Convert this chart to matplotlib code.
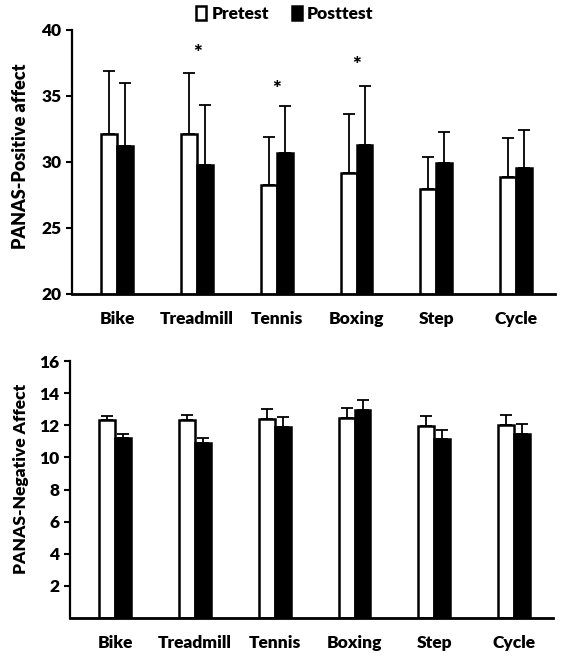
import matplotlib
matplotlib.use("Agg")
import matplotlib.pyplot as plt
import numpy as np
from matplotlib.patches import Patch

plt.rcParams['font.family'] = ['Lato', 'DejaVu Sans']
plt.rcParams['font.weight'] = 'heavy'
FW = 'heavy'

categories = ["Bike", "Treadmill", "Tennis", "Boxing", "Step", "Cycle"]

pos_pre = [32.1, 32.1, 28.25, 29.2, 27.95, 28.9]
pos_pre_err = [4.8, 4.65, 3.65, 4.4, 2.45, 2.95]
pos_post = [31.2, 29.75, 30.7, 31.3, 29.9, 29.55]
pos_post_err = [4.8, 4.6, 3.55, 4.45, 2.35, 2.9]
pos_stars = [None, 38.25, 35.5, 37.3, None, None]

neg_pre = [12.32, 12.32, 12.4, 12.45, 11.95, 12.0]
neg_pre_err = [0.23, 0.33, 0.62, 0.62, 0.62, 0.65]
neg_post = [11.2, 10.9, 11.9, 12.93, 11.15, 11.43]
neg_post_err = [0.23, 0.32, 0.6, 0.62, 0.53, 0.62]

W, H = 564, 663
fig = plt.figure(figsize=(W / 100, H / 100), dpi=100)

def axes_px(left, right, top, bottom):
    return fig.add_axes([left / W, 1 - bottom / H, (right - left) / W, (bottom - top) / H])

ax1 = axes_px(72, 555, 30, 294)
ax2 = axes_px(70, 553, 361, 618)

bw = 0.2
x = np.arange(len(categories))

def draw(ax, pre, pre_err, post, post_err, ylim, ticks, pad):
    ax.bar(x - bw / 2, pre, bw, color='white', edgecolor='black', linewidth=1.8,
           zorder=2)
    ax.bar(x + bw / 2, post, bw, color='black', edgecolor='black', linewidth=1.8,
           zorder=2)
    ax.errorbar(x - bw / 2, pre, yerr=[np.zeros(len(pre)), pre_err], fmt='none',
                ecolor='black', elinewidth=1.3, capsize=4, capthick=1.3, zorder=1)
    ax.errorbar(x + bw / 2, post, yerr=[np.zeros(len(post)), post_err], fmt='none',
                ecolor='black', elinewidth=1.3, capsize=4, capthick=1.3, zorder=1)
    ax.set_ylim(*ylim)
    ax.set_xlim(-0.57, 5.49)
    ax.set_yticks(ticks)
    ax.set_xticks(x)
    ax.set_xticklabels(categories, fontsize=12.5, fontweight=FW)
    ax.tick_params(axis='x', length=0, pad=pad)
    ax.tick_params(axis='y', length=4, width=1.5, labelsize=12.5, direction='out')
    for lab in ax.get_yticklabels():
        lab.set_fontweight(FW)
    ax.spines['top'].set_visible(False)
    ax.spines['right'].set_visible(False)
    ax.spines['left'].set_linewidth(1.6)
    ax.spines['bottom'].set_linewidth(2)

draw(ax1, pos_pre, pos_pre_err, pos_post, pos_post_err, (20, 40), [20, 25, 30, 35, 40], 12)
ax1.set_ylabel("PANAS-Positive affect", fontsize=13, fontweight=FW)
ax1.yaxis.set_label_coords(-0.089, 0.52)
for i, s in enumerate(pos_stars):
    if s is not None:
        ax1.text(x[i], s, "*", ha='center', va='center', fontsize=15, fontweight=FW)

draw(ax2, neg_pre, neg_pre_err, neg_post, neg_post_err, (0, 16), [2, 4, 6, 8, 10, 12, 14, 16], 12)
ax2.set_ylabel("PANAS-Negative Affect", fontsize=12.5, fontweight=FW)
ax2.yaxis.set_label_coords(-0.085, 0.54)

handles = [Patch(facecolor='white', edgecolor='black', linewidth=1.8, label='Pretest'),
           Patch(facecolor='black', edgecolor='black', linewidth=1.8, label='Posttest')]
fig.legend(handles=handles, loc='center', bbox_to_anchor=(0.505, 1 - 14 / H), ncol=2,
           frameon=False, handlelength=0.6, handleheight=0.9, handletextpad=0.3,
           columnspacing=1.3, prop={'weight': FW, 'size': 12.5})

fig.savefig("out.png", dpi=100)
